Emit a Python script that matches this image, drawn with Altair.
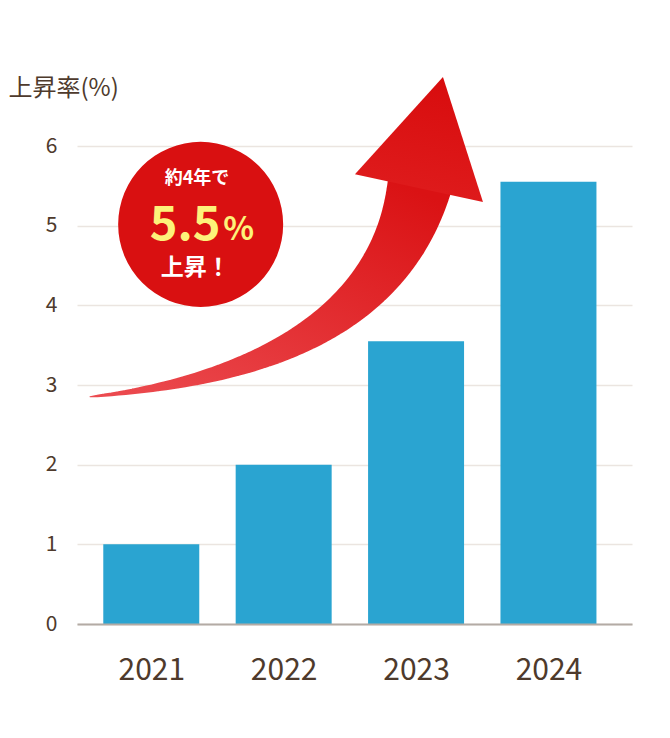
import altair as alt
import numpy as np
import pandas as pd

# ---- data ----
years = [2021, 2022, 2023, 2024]
rates = [1.0, 2.0, 3.55, 5.55]
y_ticks = [0, 1, 2, 3, 4, 5, 6]
axis_title = "上昇率(%)"
badge_top = "約4年で"
badge_num = "5.5"
badge_pct = "%"
badge_bottom = "上昇！"

# decorative arrow, in (year, percent) units: tail, control, head base, tip
arrow_ctrl_x = [2020.537, 2022.712, 2023.022]
arrow_ctrl_y = [2.853, 3.216, 5.473]
arrow_tip = [2023.203, 6.865]
badge_center = [2021.373, 5.016]

FONT = "Noto Sans CJK JP"
TEXT = "#4e3a2c"
BAR = "#2aa4d1"

xs = alt.Scale(domain=[2020.439, 2024.631], nice=False, zero=False)
ys = alt.Scale(domain=[0, 6], nice=False)

x_axis = alt.Axis(
    values=years, format="d", title=None, grid=False, ticks=False, tickSize=0,
    domain=True, domainColor="#b3aba5", domainWidth=2,
    labelFont=FONT, labelFontSize=30, labelColor=TEXT,
    labelPadding=31, zindex=1,
)
y_axis = alt.Axis(
    values=y_ticks, format="d", title=axis_title, titleAngle=0, titleX=-69,
    titleY=-58, titleAlign="left", titleBaseline="middle",
    titleFont=FONT, titleFontSize=24, titleFontWeight="normal",
    titleColor=TEXT, grid=True, gridColor="#ebe5e0", gridWidth=1.5,
    domain=False, ticks=False, tickSize=0, labelPadding=20,
    labelFont=FONT, labelFontSize=21, labelColor=TEXT,
)


def X(field):
    return alt.X(field, scale=xs, axis=x_axis, title=None)


def Y(field):
    return alt.Y(field, scale=ys, axis=y_axis, title=axis_title)


bars_df = pd.DataFrame({"year": years, "rate": rates})

bars = (
    alt.Chart(bars_df)
    .transform_calculate(x0="datum.year - 0.3625", x1="datum.year + 0.3625")
    .mark_rect(color=BAR)
    .encode(x=X("x0:Q"), x2="x1:Q", y=Y("rate:Q"), y2=alt.datum(0))
)

# arrow body as a tapering trail along a quadratic curve
t = np.linspace(0, 1, 80)
(x0, x1, x2), (y0, y1, y2) = arrow_ctrl_x, arrow_ctrl_y
ax = (1 - t) ** 2 * x0 + 2 * t * (1 - t) * x1 + t ** 2 * x2
ay = (1 - t) ** 2 * y0 + 2 * t * (1 - t) * y1 + t ** 2 * y2
w = 2 + 62 * t ** 1.1
w[0] = 0
body_df = pd.DataFrame({"ax": ax, "ay": ay, "w": w, "t": t})

body_grad = {
    "gradient": "linear", "x1": 0, "y1": 1, "x2": 0.7, "y2": 0,
    "stops": [{"offset": 0, "color": "#ec4c51"}, {"offset": 1, "color": "#da1214"}],
}
body = alt.Chart(body_df).mark_trail(color=body_grad, fill=body_grad).encode(
    x=X("ax:Q"),
    y=Y("ay:Q"),
    size=alt.Size("w:Q", scale=None, legend=None),
    order=alt.Order("t:Q"),
)

head_df = pd.DataFrame({
    "hx": [(x2 + arrow_tip[0]) / 2],
    "hy": [(y2 + arrow_tip[1]) / 2],
})
head_grad = {
    "gradient": "linear", "x1": 0, "y1": 1, "x2": 0, "y2": 0,
    "stops": [{"offset": 0, "color": "#de1a1b"}, {"offset": 1, "color": "#d80c0d"}],
}
head = alt.Chart(head_df).mark_point(
    shape="M0,-1L1.153,1L-1.153,1Z", size=12905, angle=12.2,
    filled=True, color=head_grad, fill=head_grad, opacity=1, strokeWidth=0,
).encode(x=X("hx:Q"), y=Y("hy:Q"))

badge_df = pd.DataFrame({"bx": [badge_center[0]], "by": [badge_center[1]]})
badge = alt.Chart(badge_df).mark_point(
    shape="circle", size=27225, filled=True, color="#d91011", opacity=1, strokeWidth=0,
).encode(x=X("bx:Q"), y=Y("by:Q"))

txt_df = pd.DataFrame({
    "label": [badge_top, badge_num, badge_pct, badge_bottom],
    "tx": [2021.345, 2021.256, 2021.660, 2021.332],
    "ty": [5.59, 4.821, 4.821, 4.47],
    "size": [18, 47, 32, 23],
    "col": ["#ffffff", "#fdf27a", "#fdf27a", "#ffffff"],
    "base": ["middle", "alphabetic", "alphabetic", "middle"],
})


def badge_text(i):
    row = txt_df.iloc[[i]]
    return alt.Chart(row).mark_text(
        font=FONT, fontWeight="bold", fontSize=int(row["size"].iloc[0]),
        color=row["col"].iloc[0], align="center", baseline=row["base"].iloc[0],
    ).encode(x=X("tx:Q"), y=Y("ty:Q"), text="label:N")


chart = alt.layer(
    bars, body, head, badge, *[badge_text(i) for i in range(4)]
).properties(
    width=555, height=478,
    padding={"left": 69, "top": 138, "right": 30, "bottom": 106},
    autosize=alt.AutoSizeParams(type="none"),
    background="white",
).configure_view(stroke=None)

chart.save("out.html", embed_options={"renderer": "svg", "actions": False})
